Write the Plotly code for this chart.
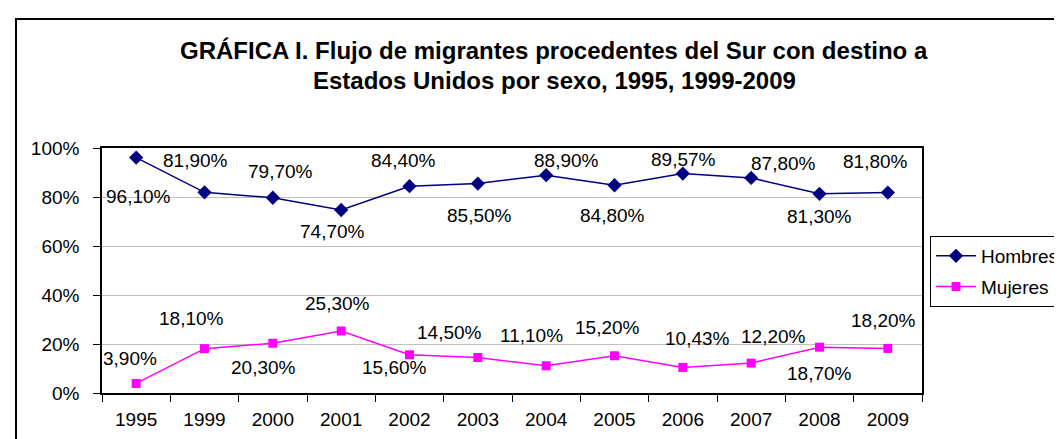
import plotly.graph_objects as go

# data
years = ["1995", "1999", "2000", "2001", "2002", "2003",
         "2004", "2005", "2006", "2007", "2008", "2009"]
hombres = [96.10, 81.90, 79.70, 74.70, 84.40, 85.50, 88.90, 84.80, 89.57, 87.80, 81.30, 81.80]
mujeres = [3.90, 18.10, 20.30, 25.30, 15.60, 14.50, 11.10, 15.20, 10.43, 12.20, 18.70, 18.20]
title_lines = ["GRÁFICA I. Flujo de migrantes procedentes del Sur con destino a",
               "Estados Unidos por sexo, 1995, 1999-2009"]

# label offsets in pixels (dx right, dy down) from each marker, as placed in the original
hombres_off = [(2, 39), (-9, -32), (8, -26), (-9, 22), (-6, -26), (2, 32),
               (20, -15), (-2, 30), (1, -14), (32, -14), (0, 23), (-12, -31)]
mujeres_off = [(-6, -25), (-13, -30), (-9, 24), (-4, -28), (-15, 13), (-28, -25),
               (-15, -30), (-7, -28), (15, -29), (22, -27), (0, 26), (-4, -28)]

FONT = "Arial, Liberation Sans, sans-serif"

W, H = 1062, 439
L, R, T, B = 94, 148, 140, 54
pw, ph = W - L - R, H - T - B


def pct(v):
    return f"{v:.2f}".replace(".", ",") + "%"


def px_x(x):
    return (x - L) / pw


def px_y(y):
    return (H - B - y) / ph


fig = go.Figure()
fig.add_trace(go.Scatter(
    x=years, y=hombres, name="Hombres", mode="lines+markers", legendgroup="h",
    line=dict(color="#000080", width=1.5),
    marker=dict(symbol="diamond", size=11, color="#000080"),
))
fig.add_trace(go.Scatter(
    x=years, y=mujeres, name="Mujeres", mode="lines+markers", legendgroup="m",
    line=dict(color="#FF00FF", width=1.5),
    marker=dict(symbol="square", size=9, color="#FF00FF"),
))

# data labels; category axes take the category index for annotation x
annotations = []
for vals, offs in ((hombres, hombres_off), (mujeres, mujeres_off)):
    for i, (v, (dx, dy)) in enumerate(zip(vals, offs)):
        annotations.append(dict(
            x=i, y=v, text=pct(v), showarrow=False,
            xshift=dx, yshift=-dy, xanchor="center", yanchor="middle",
            font=dict(size=19, color="#000000", family=FONT),
        ))

# two-line title, placed line by line
for line, ypx in zip(title_lines, (43, 72)):
    annotations.append(dict(
        text=line, xref="paper", yref="paper", x=px_x(546), y=px_y(ypx),
        xanchor="center", yanchor="middle", showarrow=False,
        font=dict(size=24, color="#000000", family=FONT, weight="bold"),
    ))

# outer chart frame (runs off the right and bottom edges of the image)
shapes = [dict(
    type="rect", xref="paper", yref="paper",
    x0=px_x(8), x1=1.5, y0=-0.5, y1=px_y(11),
    line=dict(color="#000000", width=2), fillcolor="rgba(0,0,0,0)", layer="below",
)]

fig.update_layout(
    width=W, height=H,
    margin=dict(l=L, r=R, t=T, b=B, autoexpand=False),
    paper_bgcolor="#FFFFFF",
    plot_bgcolor="#FFFFFF",
    font=dict(family=FONT, size=19, color="#000000"),
    xaxis=dict(
        type="category", range=[-0.5, 11.5], showgrid=False,
        showline=True, linecolor="#000000", linewidth=1.5, mirror=True,
        ticks="outside", ticklen=7, tickcolor="#000000", tickson="boundaries",
        ticklabelstandoff=8,
    ),
    yaxis=dict(
        range=[0, 100], dtick=20, ticksuffix="%",
        showgrid=True, gridcolor="#C0C0C0", gridwidth=1,
        showline=True, linecolor="#000000", linewidth=1.5, mirror=True,
        ticks="outside", ticklen=7, tickcolor="#000000",
        ticklabelstandoff=10, zeroline=False,
    ),
    legend=dict(
        x=px_x(922), xanchor="left", y=px_y(228), yanchor="top",
        bordercolor="#000000", borderwidth=1, bgcolor="#FFFFFF",
        font=dict(size=19, family=FONT), traceorder="grouped", tracegroupgap=3,
        itemwidth=40,
    ),
    annotations=annotations,
    shapes=shapes,
)

fig.write_html("out.html")
